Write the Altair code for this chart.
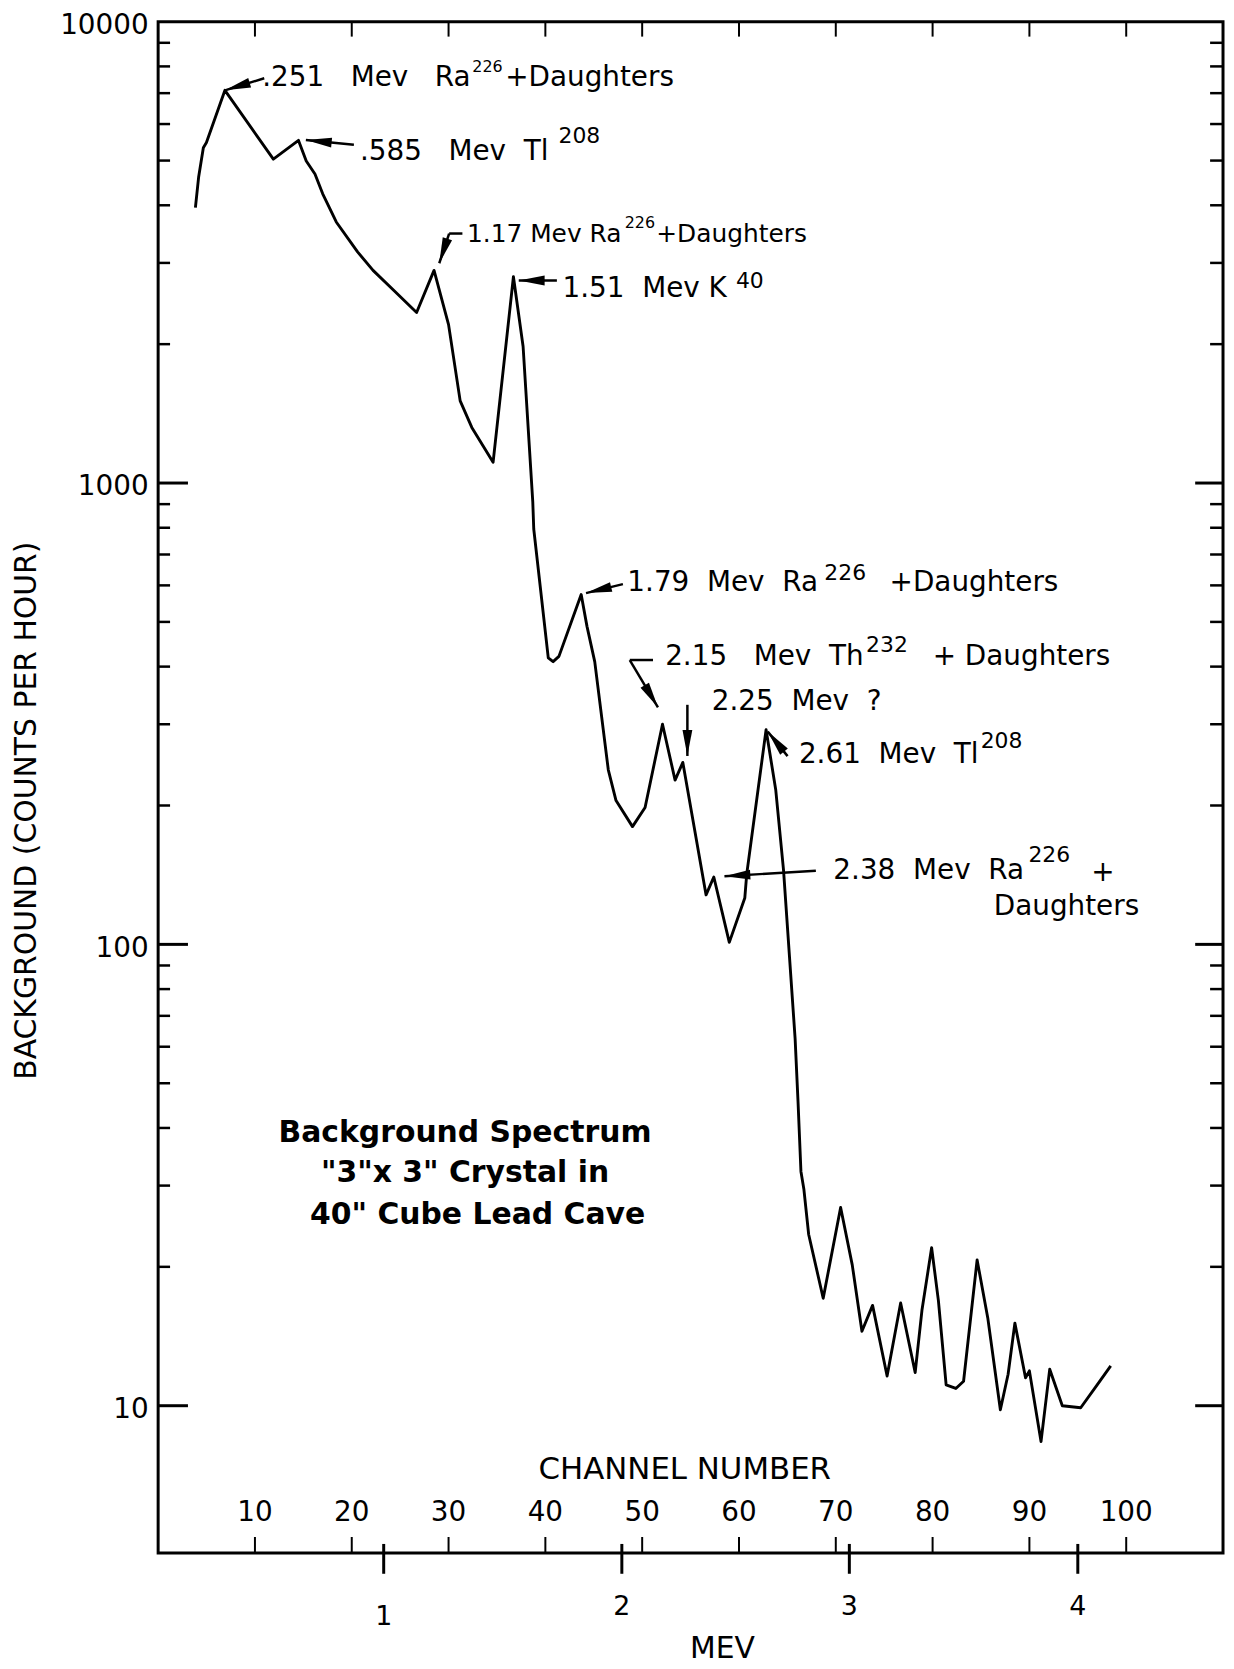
import math
import altair as alt
import pandas as pd

FONT = "DejaVu Sans"
SP1 = "\u00a0"
SP2 = "\u00a0\u00a0"      # wide gaps between words (not collapsed in SVG)
SP3 = "\u00a0\u00a0\u00a0"

# ---------------- data ----------------
# spectrum: channel number vs background (counts per hour)
spec_channel = [3.85, 4.18, 4.67, 4.99, 6.90, 11.9, 14.5, 15.3, 16.2, 17.0,
                18.4, 20.6, 22.2, 24.3, 26.7, 28.5, 30.0, 31.2, 32.4, 34.6,
                36.7, 37.7, 38.7, 38.8, 40.3, 40.8, 41.4, 43.7, 44.3, 45.1,
                46.5, 47.3, 49.0, 50.3, 52.1, 53.4, 54.2, 56.6, 57.4, 59.0,
                60.6, 60.8, 62.8, 63.8, 64.6, 65.8, 66.1, 66.4, 66.7, 67.2,
                68.7, 70.5, 71.7, 72.7, 73.8, 75.3, 76.7, 78.2, 78.9, 79.9,
                80.6, 81.4, 82.4, 83.2, 84.6, 85.7, 87.0, 87.8, 88.5, 89.6,
                90.0, 91.2, 92.1, 93.4, 95.3, 97.0, 98.4]
spec_counts = [3955, 4600, 5330, 5470, 7100, 5035, 5530, 4990, 4675, 4235,
               3680, 3170, 2890, 2620, 2343, 2890, 2205, 1507, 1320, 1109,
               2800, 1977, 910, 795, 418, 410, 421, 573, 489, 410,
               239, 205, 180, 198, 300, 227, 248, 128, 140, 101,
               126, 142, 292, 216, 145, 62.4, 45.6, 32.2, 29.5, 23.5,
               17.1, 26.9, 20.2, 14.5, 16.5, 11.6, 16.7, 11.8, 16.1, 22.0,
               16.9, 11.1, 10.9, 11.3, 20.7, 15.5, 9.8, 11.7, 15.1, 11.5,
               11.9, 8.36, 12.0, 10.0, 9.9, 11.1, 12.2]

y_major = [10, 100, 1000]
y_labels = [10, 100, 1000, 10000]
y_minor = [20, 30, 40, 50, 60, 70, 80, 90,
           200, 300, 400, 500, 600, 700, 800, 900,
           2000, 3000, 4000, 5000, 6000, 7000, 8000, 9000]

channel_ticks = [10, 20, 30, 40, 50, 60, 70, 80, 90, 100]
mev_tick_channel = [23.3, 47.9, 71.4, 95.0]
mev_labels = ["1", "2", "3", "4"]

# annotation text before each superscript (right end given), grouped by lettering size
pre_text = [".251" + SP3 + "Mev" + SP3 + "Ra", ".585" + SP3 + "Mev" + SP2 + "Tl",
            "1.17 Mev Ra", "1.51" + SP2 + "Mev" + SP1 + "K",
            "1.79" + SP2 + "Mev" + SP2 + "Ra", "2.15" + SP3 + "Mev" + SP2 + "Th",
            "2.61" + SP2 + "Mev" + SP2 + "Tl", "2.38" + SP2 + "Mev" + SP2 + "Ra"]
pre_end_channel = [32.28, 40.32, 47.86, 58.75, 68.17, 72.87, 84.75, 89.45]
pre_counts = [7556, 5220, 3458, 2633, 605.8, 419.6, 256.7, 144.4]
pre_group = ["big", "big", "small", "big", "big", "big", "big", "big"]

sup_text = ["226", "208", "226", "40", "226", "232", "208", "226"]
sup_channel = [32.46, 41.36, 48.20, 59.68, 68.82, 73.13, 84.97, 89.90]
sup_counts = [7980, 5638, 3670, 2739, 639.7, 445.4, 275.3, 156.3]
sup_group = ["small", "big", "small", "big", "big", "big", "big", "big"]

post_text = ["+Daughters", "+Daughters", "+Daughters", "+ Daughters", "+",
             "Daughters", "2.25" + SP2 + "Mev" + SP2 + "?"]
post_channel = [35.85, 51.45, 75.56, 80.01, 96.40, 86.32, 57.19]
post_counts = [7556, 3458, 605.8, 419.6, 143.0, 120.4, 335.6]
post_group = ["big", "small", "big", "big", "big", "big", "big"]

# leader lines (from -> to), and whether they end in an arrow head
lead_from_channel = [10.96, 20.22, 31.43, 30.06, 41.19, 48.01, 51.12, 48.72, 54.67, 65.02, 67.94]
lead_from_counts = [7539, 5412, 3474, 3474, 2748, 603.7, 413.4, 413.4, 330.6, 255.9, 144.4]
lead_to_channel = [6.90, 15.26, 30.06, 29.04, 37.25, 44.20, 48.72, 51.63, 54.67, 62.97, 58.50]
lead_to_counts = [7100, 5540, 3474, 2995, 2748, 577.3, 413.4, 326.4, 256.1, 289.2, 140.5]
lead_head = [True, True, False, True, True, True, False, True, True, True, True]

box_lines = ["Background Spectrum", "\"3\"x 3\" Crystal in", "40\" Cube Lead Cave"]
box_channel = [31.7, 31.7, 33.0]
box_counts = [38.96, 31.94, 25.93]

# ---------------- scales / geometry ----------------
W, H = 1071, 1540
X_DOMAIN = [0, 110]
Y_DOMAIN = [4.797, 10000]
xs = alt.Scale(domain=X_DOMAIN, nice=False, zero=False)
ys = alt.Scale(type="log", domain=Y_DOMAIN, nice=False)
px_per_ch = W / (X_DOMAIN[1] - X_DOMAIN[0])
px_per_dec = H / (math.log10(Y_DOMAIN[1]) - math.log10(Y_DOMAIN[0]))

Y_AXIS = alt.Axis(
    values=y_labels, format="d", ticks=False, domain=False, grid=False,
    labelFont=FONT, labelFontSize=28, labelColor="black", labelPadding=10,
    labelOffset=4, labelFlush=False, labelOverlap=False,
    title="BACKGROUND (COUNTS PER HOUR)", titleFont=FONT, titleFontSize=30,
    titleFontWeight="normal", titleColor="black", titleX=-132, titleY=793,
    titleAngle=270, titleAlign="center", titleBaseline="middle")


def X(field):
    return alt.X(field, scale=xs, axis=None)


def Y(field):
    return alt.Y(field, scale=ys, axis=Y_AXIS)


# ---------------- layers ----------------
spec = pd.DataFrame({"channel": spec_channel, "counts": spec_counts})
curve = alt.Chart(spec).mark_line(color="black", strokeWidth=2.9, strokeJoin="round").encode(
    x=X("channel:Q"), y=Y("counts:Q"), order="channel:Q")


def ytick(values, x0, x1, sw):
    return alt.Chart(pd.DataFrame({"counts": values})).mark_rule(color="black", strokeWidth=sw).encode(
        y=Y("counts:Q"), x=alt.value(x0), x2=alt.value(x1))


def xtick(values, y0, y1, sw):
    return alt.Chart(pd.DataFrame({"c": values})).mark_rule(color="black", strokeWidth=sw).encode(
        x=X("c:Q"), y=alt.value(y0), y2=alt.value(y1))


ticks = [
    ytick(y_major, 0, 30, 3), ytick(y_minor, 0, 12, 2.5),
    ytick(y_major, W - 28, W, 3), ytick(y_minor, W - 13, W, 2.5),
    xtick(channel_ticks, 0, 15, 2), xtick(channel_ticks, H - 16, H, 2),
    xtick(mev_tick_channel, H - 9, H + 21, 3),
]

chan_lab = alt.Chart(pd.DataFrame({"c": channel_ticks})).mark_text(
    font=FONT, fontSize=28, color="black", align="center", baseline="middle").encode(
    x=X("c:Q"), y=alt.value(1500), text="c:Q")

chan_title = alt.Chart(pd.DataFrame({"c": [54.4], "t": ["CHANNEL NUMBER"]})).mark_text(
    font=FONT, fontSize=31, color="black", align="center", baseline="middle").encode(
    x=X("c:Q"), y=alt.value(1457), text="t:N")

mev_df = pd.DataFrame({"c": mev_tick_channel, "t": mev_labels})
mev_lab = alt.Chart(mev_df).transform_filter("datum.t != '1'").mark_text(
    font=FONT, fontSize=27, color="black", align="center", baseline="middle").encode(
    x=X("c:Q"), y=alt.value(1594), text="t:N")
mev_lab1 = alt.Chart(mev_df).transform_filter("datum.t == '1'").mark_text(
    font=FONT, fontSize=27, color="black", align="center", baseline="middle").encode(
    x=X("c:Q"), y=alt.value(1605), text="t:N")
mev_title = alt.Chart(pd.DataFrame({"c": [58.3], "t": ["MEV"]})).mark_text(
    font=FONT, fontSize=30, color="black", align="center", baseline="middle").encode(
    x=X("c:Q"), y=alt.value(1637), text="t:N")

pre_df = pd.DataFrame({"t": pre_text, "c": pre_end_channel, "counts": pre_counts, "g": pre_group})
sup_df = pd.DataFrame({"t": sup_text, "c": sup_channel, "counts": sup_counts, "g": sup_group})
post_df = pd.DataFrame({"t": post_text, "c": post_channel, "counts": post_counts, "g": post_group})


def txt(df, group, size, align):
    return alt.Chart(df).transform_filter(f"datum.g == '{group}'").mark_text(
        font=FONT, fontSize=size, color="black", align=align, baseline="middle").encode(
        x=X("c:Q"), y=Y("counts:Q"), text="t:N")


ann_layers = [
    txt(pre_df, "big", 28, "right"), txt(pre_df, "small", 25, "right"),
    txt(sup_df, "big", 22, "left"), txt(sup_df, "small", 16, "left"),
    txt(post_df, "big", 28, "left"), txt(post_df, "small", 25, "left"),
]

lead = pd.DataFrame({"c1": lead_from_channel, "counts": lead_from_counts,
                     "c2": lead_to_channel, "v2": lead_to_counts, "head": lead_head})
angles = []
for c1, v1, c2, v2 in zip(lead_from_channel, lead_from_counts, lead_to_channel, lead_to_counts):
    dx = (c2 - c1) * px_per_ch
    dy = -(math.log10(v2) - math.log10(v1)) * px_per_dec
    angles.append(math.degrees(math.atan2(dx, -dy)) % 360)
lead["ang"] = angles

lead_lines = alt.Chart(lead).mark_rule(color="black", strokeWidth=2.5).encode(
    x=X("c1:Q"), y=Y("counts:Q"), x2="c2:Q", y2="v2:Q")
heads = alt.Chart(lead).transform_filter("datum.head").transform_calculate(
    counts="datum.v2").mark_point(
    shape="M0,0L0.38,2L-0.38,2Z", filled=True, color="black", opacity=1,
    size=676, strokeWidth=0).encode(
    x=X("c2:Q"), y=Y("counts:Q"), angle=alt.Angle("ang:Q", scale=None))

box = alt.Chart(pd.DataFrame({"t": box_lines, "c": box_channel, "counts": box_counts})).mark_text(
    font=FONT, fontSize=30, fontWeight="bold", color="black", align="center", baseline="middle").encode(
    x=X("c:Q"), y=Y("counts:Q"), text="t:N")

chart = alt.layer(
    curve, *ticks, chan_lab, chan_title, mev_lab, mev_lab1, mev_title,
    lead_lines, heads, *ann_layers, box
).properties(
    width=W, height=H,
    padding={"left": 151, "top": 9, "right": 3, "bottom": 112},
    autosize=alt.AutoSizeParams(type="none"),
    background="white",
).configure_view(stroke="black", strokeWidth=3)

chart.save("out.html", embed_options={"renderer": "svg", "actions": False})
